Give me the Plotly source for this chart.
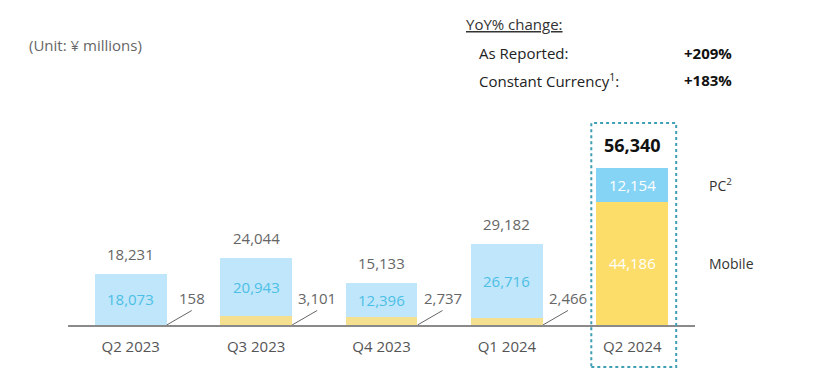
import plotly.graph_objects as go

quarters = ["Q2 2023", "Q3 2023", "Q4 2023", "Q1 2024", "Q2 2024"]
pc = [18073, 20943, 12396, 26716, 12154]
mobile = [158, 3101, 2737, 2466, 44186]
totals = [18231, 24044, 15133, 29182, 56340]

FONT = "Open Sans, Lato, sans-serif"
GRAY = "#666666"

pc_colors = ["#bfe6fa"] * 4 + ["#86d4f5"]
mob_colors = ["#f4e08e"] * 4 + ["#fddd6a"]
pc_text_colors = ["#4dbfe6"] * 4 + ["#ffffff"]

YMAX = 80650
OFF = 8  # page body margin offset
W = 0.574
fig = go.Figure()
fig.add_bar(x=list(range(5)), y=mobile, marker=dict(color=mob_colors, line_width=0),
            width=W, hoverinfo="skip")
fig.add_bar(x=list(range(5)), y=pc, marker=dict(color=pc_colors, line_width=0),
            width=W, hoverinfo="skip")

ann = []
shapes = []
for i in range(5):
    ann.append(dict(x=i, y=mobile[i] + pc[i] / 2, xref="x", yref="y",
                    text=f"{pc[i]:,}", showarrow=False,
                    font=dict(family=FONT, size=15, color=pc_text_colors[i])))
    if i < 4:
        ann.append(dict(x=i, y=totals[i], xref="x", yref="y", text=f"{totals[i]:,}",
                        showarrow=False, yanchor="bottom", yshift=8,
                        font=dict(family=FONT, size=15, color=GRAY)))
        x0 = i + W / 2
        shapes.append(dict(type="line", xref="x", yref="y", x0=x0, y0=0,
                           x1=x0 + 0.2, y1=5200, line=dict(color=GRAY, width=1)))
        ann.append(dict(x=x0 + 0.2, y=5200, xref="x", yref="y", text=f"{mobile[i]:,}",
                        showarrow=False, xanchor="center", yanchor="bottom", yshift=0,
                        font=dict(family=FONT, size=15, color=GRAY)))
    else:
        ann.append(dict(x=i, y=totals[i], xref="x", yref="y", text=f"<b>{totals[i]:,}</b>",
                        showarrow=False, yanchor="bottom", yshift=9,
                        font=dict(family=FONT, size=18, color="#111111")))
        ann.append(dict(x=i, y=mobile[i] / 2, xref="x", yref="y", text=f"{mobile[i]:,}",
                        showarrow=False,
                        font=dict(family=FONT, size=15, color="#ffffff")))

# plot area spans window px x 68..695, y 100..325
def px(xp):
    return (xp - 68) / 627.0

def py(yp):
    return (325 - yp) / 225.0

ann.append(dict(x=px(707), y=(mobile[4] + pc[4] / 2) / YMAX, xref="paper", yref="paper",
                text="PC<sup>2</sup>", showarrow=False, xanchor="left", yanchor="middle",
                font=dict(family=FONT, size=14, color="#333333")))
ann.append(dict(x=px(707), y=(mobile[4] / 2) / YMAX, xref="paper", yref="paper", text="Mobile",
                showarrow=False, xanchor="left", yanchor="middle",
                font=dict(family=FONT, size=14, color="#333333")))

def head(x, y, text, size, color):
    ann.append(dict(x=px(x), y=py(y), xref="paper", yref="paper", text=text,
                    showarrow=False, xanchor="left", yanchor="middle",
                    font=dict(family=FONT, size=size, color=color)))

head(27, 45, "(Unit: ¥ millions)", 15, GRAY)
head(464, 24, "<u>YoY% change:</u>", 15, "#333333")
head(477, 53, "As Reported:", 15, "#222222")
head(477, 80, "Constant Currency<sup>1</sup>:", 15, "#222222")
head(682, 53, "<b>+209%</b>", 15, "#111111")
head(682, 80, "<b>+183%</b>", 15, "#111111")

shapes.append(dict(type="rect", xref="x", yref="paper", x0=4 - 0.327, x1=4 + 0.35,
                   y0=py(367), y1=py(123), line=dict(color="#3f9fb5", width=2, dash="dot"),
                   fillcolor="rgba(0,0,0,0)", layer="above"))

fig.update_layout(
    barmode="stack",
    width=824, height=375,
    margin=dict(l=68 - OFF, r=824 - 695 + OFF, t=100 - OFF, b=50 + OFF),
    paper_bgcolor="white", plot_bgcolor="white",
    showlegend=False,
    annotations=ann, shapes=shapes,
    xaxis=dict(tickmode="array", tickvals=list(range(5)), ticktext=quarters,
               range=[-0.5, 4.5], showgrid=False, zeroline=False,
               showline=True, linecolor="#8a8a8a", linewidth=1.5, ticks="",
               tickfont=dict(family=FONT, size=15, color="#555555"), ticklabelstandoff=7),
    yaxis=dict(range=[0, YMAX], visible=False, showgrid=False, zeroline=False),
)

fig.write_html("out.html")
